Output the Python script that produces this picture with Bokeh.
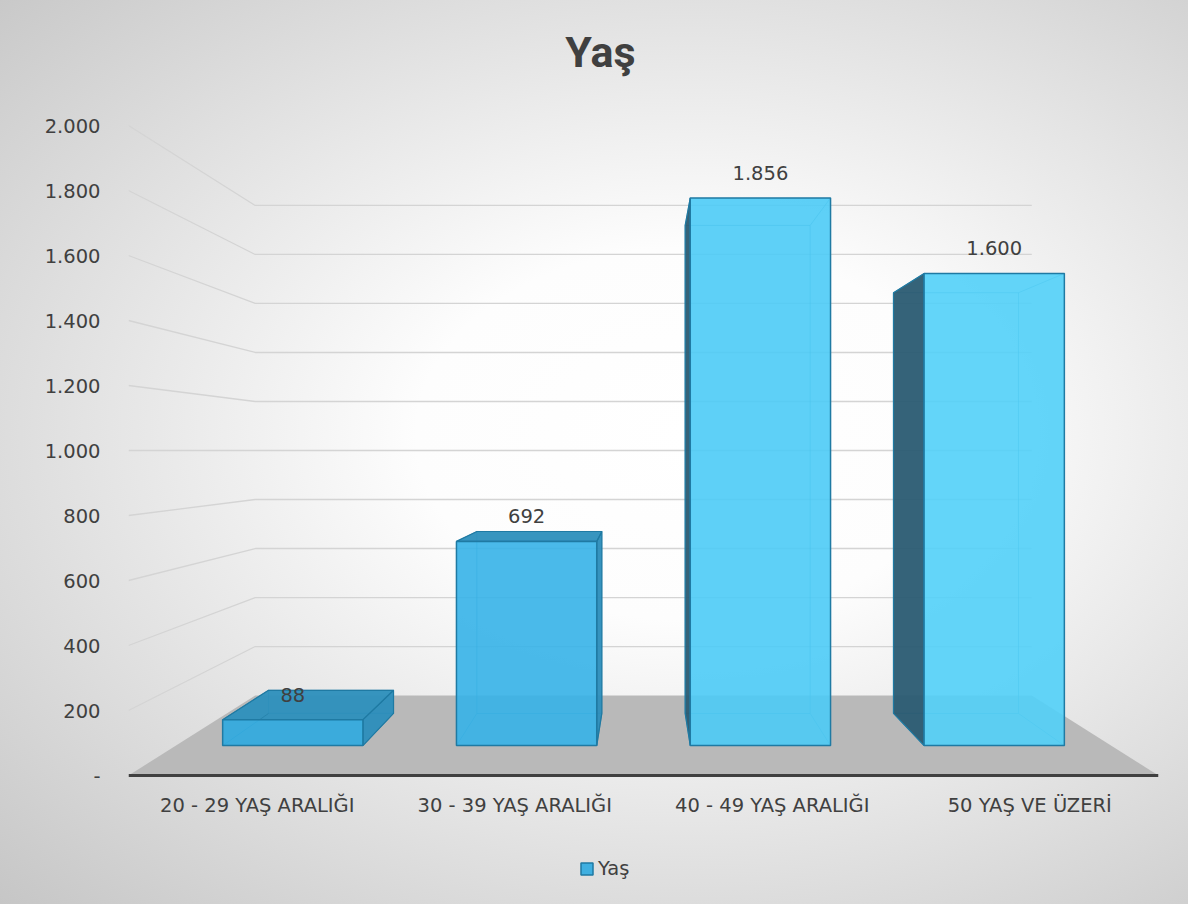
import numpy as np
from bokeh.plotting import figure
from bokeh.models import ColumnDataSource, FixedTicker, Label, Legend, LegendItem, Range1d
from bokeh.core.properties import value
from bokeh.embed import file_html
from bokeh.resources import INLINE

# ---------------- data ----------------
categories = ["20 - 29 YAŞ ARALIĞI", "30 - 39 YAŞ ARALIĞI", "40 - 49 YAŞ ARALIĞI", "50 YAŞ VE ÜZERİ"]
values = [88, 692, 1856, 1600]
series_name = "Yaş"
chart_title = "Yaş"
y_ticks = [0, 200, 400, 600, 800, 1000, 1200, 1400, 1600, 1800, 2000]
y_tick_labels = ["-", "200", "400", "600", "800", "1.000", "1.200", "1.400", "1.600", "1.800", "2.000"]

# ---------------- style / geometry ----------------
FONT = "DejaVu Sans"
TFONT = "Roboto"
FS = "19.5px"
TXT = "#404040"
N = len(categories)
Y_MAX = y_ticks[-1]
VX, VY = N / 2.0, Y_MAX / 2.0          # vanishing point (centre of the box)
S_FRONT, S_BACK, S_WALL = 0.908, 0.809, 0.754  # depth scale factors
HALF = 0.3                               # half bar width (category units)
FRONT_COLORS = ["#2eaae0", "#36b2e8", "#4ccbf6", "#52d0f8"]
EDGE = "#1f7aa3"
PXU = 0.325                              # pixels per value unit on the front plane
FRAME_H, ZERO_FROM_TOP = 896, 767


def proj(x, y, s):
    return VX + (x - VX) * s, VY + (y - VY) * s


def fmt(v):
    return f"{v:,}".replace(",", ".")


p = figure(frame_width=1030, frame_height=FRAME_H, min_border_left=128, min_border_right=30,
           min_border_top=8, min_border_bottom=0,
           x_range=Range1d(0, N),
           y_range=Range1d(-(FRAME_H - ZERO_FROM_TOP) / PXU, ZERO_FROM_TOP / PXU),
           output_backend="svg", toolbar_location=None)
p.styles = {"background": "radial-gradient(farthest-corner at 58% 48%, #ffffff 0%, #fdfdfd 28%, #c6c6c6 100%)"}
p.background_fill_alpha = 0
p.border_fill_alpha = 0
p.outline_line_alpha = 0
p.xgrid.visible = False
p.ygrid.visible = False

# ---------------- walls ----------------
gx, gy = [], []
for t in y_ticks[1:]:
    ax, ay = proj(0, t, 1.0)
    bx, by = proj(0, t, S_WALL)
    cx, cy = proj(N, t, S_WALL)
    gx.append([ax, bx, cx])
    gy.append([ay, by, cy])
p.multi_line(gx, gy, line_color="#d4d4d4", line_width=1.3)

floor = [proj(0, 0, 1.0), proj(N, 0, 1.0), proj(N, 0, S_WALL), proj(0, 0, S_WALL)]
p.patch([q[0] for q in floor], [q[1] for q in floor], fill_color="#b9b9b9", line_alpha=0)

# ---------------- bars ----------------
back_x, back_y = [], []
side = dict(xs=[], ys=[], c=[])
top = dict(xs=[], ys=[], c=[])
front = dict(xs=[], ys=[], c=[])
conn_x, conn_y = [], []
lab_x, lab_y, lab_t = [], [], []
for i, v in enumerate(values):
    c = i + 0.5
    x0, x1 = c - HALF, c + HALF
    corners = [(x0, 0), (x1, 0), (x1, v), (x0, v)]
    bf = [proj(a, b, S_BACK) for a, b in corners]
    ff = [proj(a, b, S_FRONT) for a, b in corners]
    back_x.append([q[0] for q in bf] + [bf[0][0]])
    back_y.append([q[1] for q in bf] + [bf[0][1]])
    for k in range(4):
        conn_x.append([bf[k][0], ff[k][0]])
        conn_y.append([bf[k][1], ff[k][1]])
    sx = x0 if c > VX else x1
    sp = [proj(sx, 0, S_FRONT), proj(sx, 0, S_BACK), proj(sx, v, S_BACK), proj(sx, v, S_FRONT)]
    side["xs"].append([q[0] for q in sp]); side["ys"].append([q[1] for q in sp])
    side["c"].append("#2a5b72" if c > VX else "#2b8dba")
    if v < VY:
        tp = [proj(x0, v, S_FRONT), proj(x1, v, S_FRONT), proj(x1, v, S_BACK), proj(x0, v, S_BACK)]
        top["xs"].append([q[0] for q in tp]); top["ys"].append([q[1] for q in tp])
        top["c"].append("#2c8fbc")
    front["xs"].append([q[0] for q in ff]); front["ys"].append([q[1] for q in ff])
    front["c"].append(FRONT_COLORS[i])
    lx, ly = proj(c, v, S_FRONT)
    lab_x.append(lx); lab_y.append(ly); lab_t.append(fmt(v))

p.multi_line(back_x, back_y, line_color=EDGE, line_alpha=0.55, line_width=1)
p.patches("xs", "ys", source=ColumnDataSource(side), fill_color="c", fill_alpha=0.95,
          line_color=EDGE, line_width=1.2)
if top["xs"]:
    p.patches("xs", "ys", source=ColumnDataSource(top), fill_color="c", fill_alpha=0.95,
              line_color=EDGE, line_width=1.2)
p.multi_line(conn_x, conn_y, line_color=EDGE, line_alpha=0.55, line_width=1)
fr = p.patches("xs", "ys", source=ColumnDataSource(front), fill_color="c", fill_alpha=0.9,
               line_color=EDGE, line_width=1.5)

p.text(lab_x, lab_y, text=lab_t, text_font=value(FONT), text_font_size=FS,
       text_color=TXT, text_align="center", text_baseline="middle", y_offset=-25)

# ---------------- title ----------------
p.add_layout(Label(x=1.833, y=2225, text=chart_title, text_font=TFONT, text_font_size="43px",
                   text_font_style="bold", text_color=TXT, text_align="center",
                   text_baseline="middle"))

# ---------------- axes ----------------
p.yaxis.ticker = FixedTicker(ticks=y_ticks)
p.yaxis.major_label_overrides = {t: l for t, l in zip(y_ticks, y_tick_labels)}
p.yaxis.axis_line_alpha = 0
p.yaxis.major_tick_line_alpha = 0
p.yaxis.minor_tick_line_alpha = 0
p.yaxis.major_label_standoff = 22
p.yaxis.major_label_text_font = FONT
p.yaxis.major_label_text_font_size = FS
p.yaxis.major_label_text_color = TXT

xt = [i + 0.5 for i in range(N)]
p.xaxis.fixed_location = 0
p.xaxis.ticker = FixedTicker(ticks=xt)
p.xaxis.major_label_overrides = {t: l for t, l in zip(xt, categories)}
p.xaxis.axis_line_color = "#404040"
p.xaxis.axis_line_width = 3
p.xaxis.major_tick_line_alpha = 0
p.xaxis.minor_tick_line_alpha = 0
p.xaxis.major_label_standoff = 12
p.xaxis.major_label_text_font = FONT
p.xaxis.major_label_text_font_size = FS
p.xaxis.major_label_text_color = TXT

# ---------------- legend ----------------
legend = Legend(items=[LegendItem(label=series_name, renderers=[fr], index=0)],
                orientation="horizontal", location=(447, 20),
                border_line_alpha=0, background_fill_alpha=0,
                label_text_font=FONT, label_text_font_size=FS, label_text_color=TXT,
                glyph_width=15, glyph_height=15, label_standoff=4, margin=0, padding=4)
p.add_layout(legend)

open("out.html", "w").write(file_html(p, INLINE))
